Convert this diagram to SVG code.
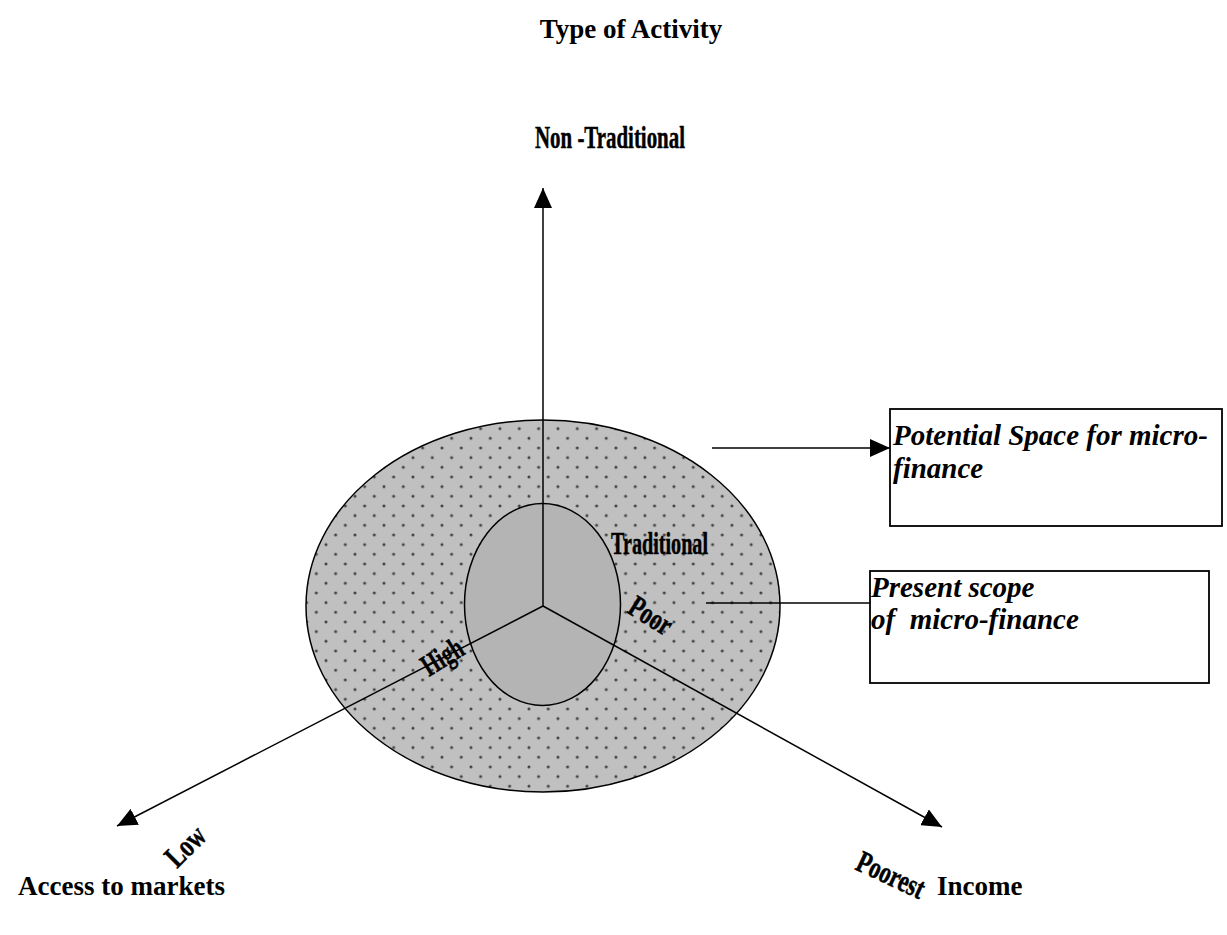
<svg xmlns="http://www.w3.org/2000/svg" width="1227" height="935" viewBox="0 0 1227 935">
<style>
.ax{stroke:#000;stroke-width:1.5;fill:none}
.lbl{font-family:"Liberation Serif",serif;font-weight:bold;font-size:27px;fill:#000}
.cond{font-family:"Liberation Serif",serif;font-weight:bold;font-size:31px;fill:#000;stroke:#000;stroke-width:0.5}
.box{fill:#fff;stroke:#000;stroke-width:1.8}
.btxt{font-family:"Liberation Serif",serif;font-weight:bold;font-style:italic;font-size:29px;fill:#000}
</style>
<defs>
<pattern id="dots" patternUnits="userSpaceOnUse" x="374.3" y="457.6" width="19.33" height="19.33">
<rect width="19.33" height="19.33" fill="#c0c0c0"/>
<circle cx="9.67" cy="9.67" r="1.5" fill="#404040"/>
<circle cx="0" cy="0" r="1.5" fill="#404040"/>
<circle cx="19.33" cy="0" r="1.5" fill="#404040"/>
<circle cx="0" cy="19.33" r="1.5" fill="#404040"/>
<circle cx="19.33" cy="19.33" r="1.5" fill="#404040"/>
</pattern>
<marker id="arr" markerWidth="20" markerHeight="18" refX="20" refY="9" orient="auto" markerUnits="userSpaceOnUse">
<path d="M0,0 L20,9 L0,18 Z" fill="#000"/>
</marker>
</defs>
<g id="title"><text class="lbl" x="631" y="38" text-anchor="middle">Type of Activity</text></g>
<g id="outer-circle"><ellipse cx="543" cy="606" rx="237" ry="186" fill="url(#dots)" stroke="#000" stroke-width="1.5"/></g>
<g id="inner-ellipse"><ellipse cx="542.5" cy="604.5" rx="78" ry="101" fill="#b4b4b4" stroke="#000" stroke-width="1.5"/></g>
<g id="connectors">
<line class="ax" x1="543" y1="606" x2="543" y2="188" marker-end="url(#arr)"/>
<line class="ax" x1="543" y1="606" x2="117" y2="826" marker-end="url(#arr)"/>
<line class="ax" x1="543" y1="606" x2="942" y2="827" marker-end="url(#arr)"/>
<line class="ax" x1="712" y1="448" x2="890" y2="448" marker-end="url(#arr)"/>
<line class="ax" x1="706" y1="603" x2="870" y2="603"/>
</g>
<g id="potential-box">
<rect class="box" x="890" y="409" width="332" height="117"/>
<text class="btxt" x="893" y="445">Potential Space for micro-</text>
<text class="btxt" x="893" y="478">finance</text>
</g>
<g id="present-box">
<rect class="box" x="870" y="571" width="339" height="112"/>
<text class="btxt" x="871" y="597">Present scope</text>
<text class="btxt" x="871" y="629" xml:space="preserve">of  micro-finance</text>
</g>
<g id="axis-labels">
<text class="cond" x="535" y="148" textLength="150" lengthAdjust="spacingAndGlyphs">Non -Traditional</text>
<text class="cond" x="611" y="554" textLength="97" lengthAdjust="spacingAndGlyphs">Traditional</text>
<text class="cond" transform="translate(626,612) rotate(32)" textLength="46" lengthAdjust="spacingAndGlyphs">Poor</text>
<text class="cond" transform="translate(429,677) rotate(-32)" textLength="44" lengthAdjust="spacingAndGlyphs">High</text>
<text class="cond" transform="translate(177,869) rotate(-45)" textLength="44" lengthAdjust="spacingAndGlyphs">Low</text>
<text class="cond" transform="translate(854,869) rotate(25)" textLength="72" lengthAdjust="spacingAndGlyphs">Poorest</text>
<text class="lbl" x="18" y="895">Access to markets</text>
<text class="lbl" x="937" y="895">Income</text>
</g>
</svg>
